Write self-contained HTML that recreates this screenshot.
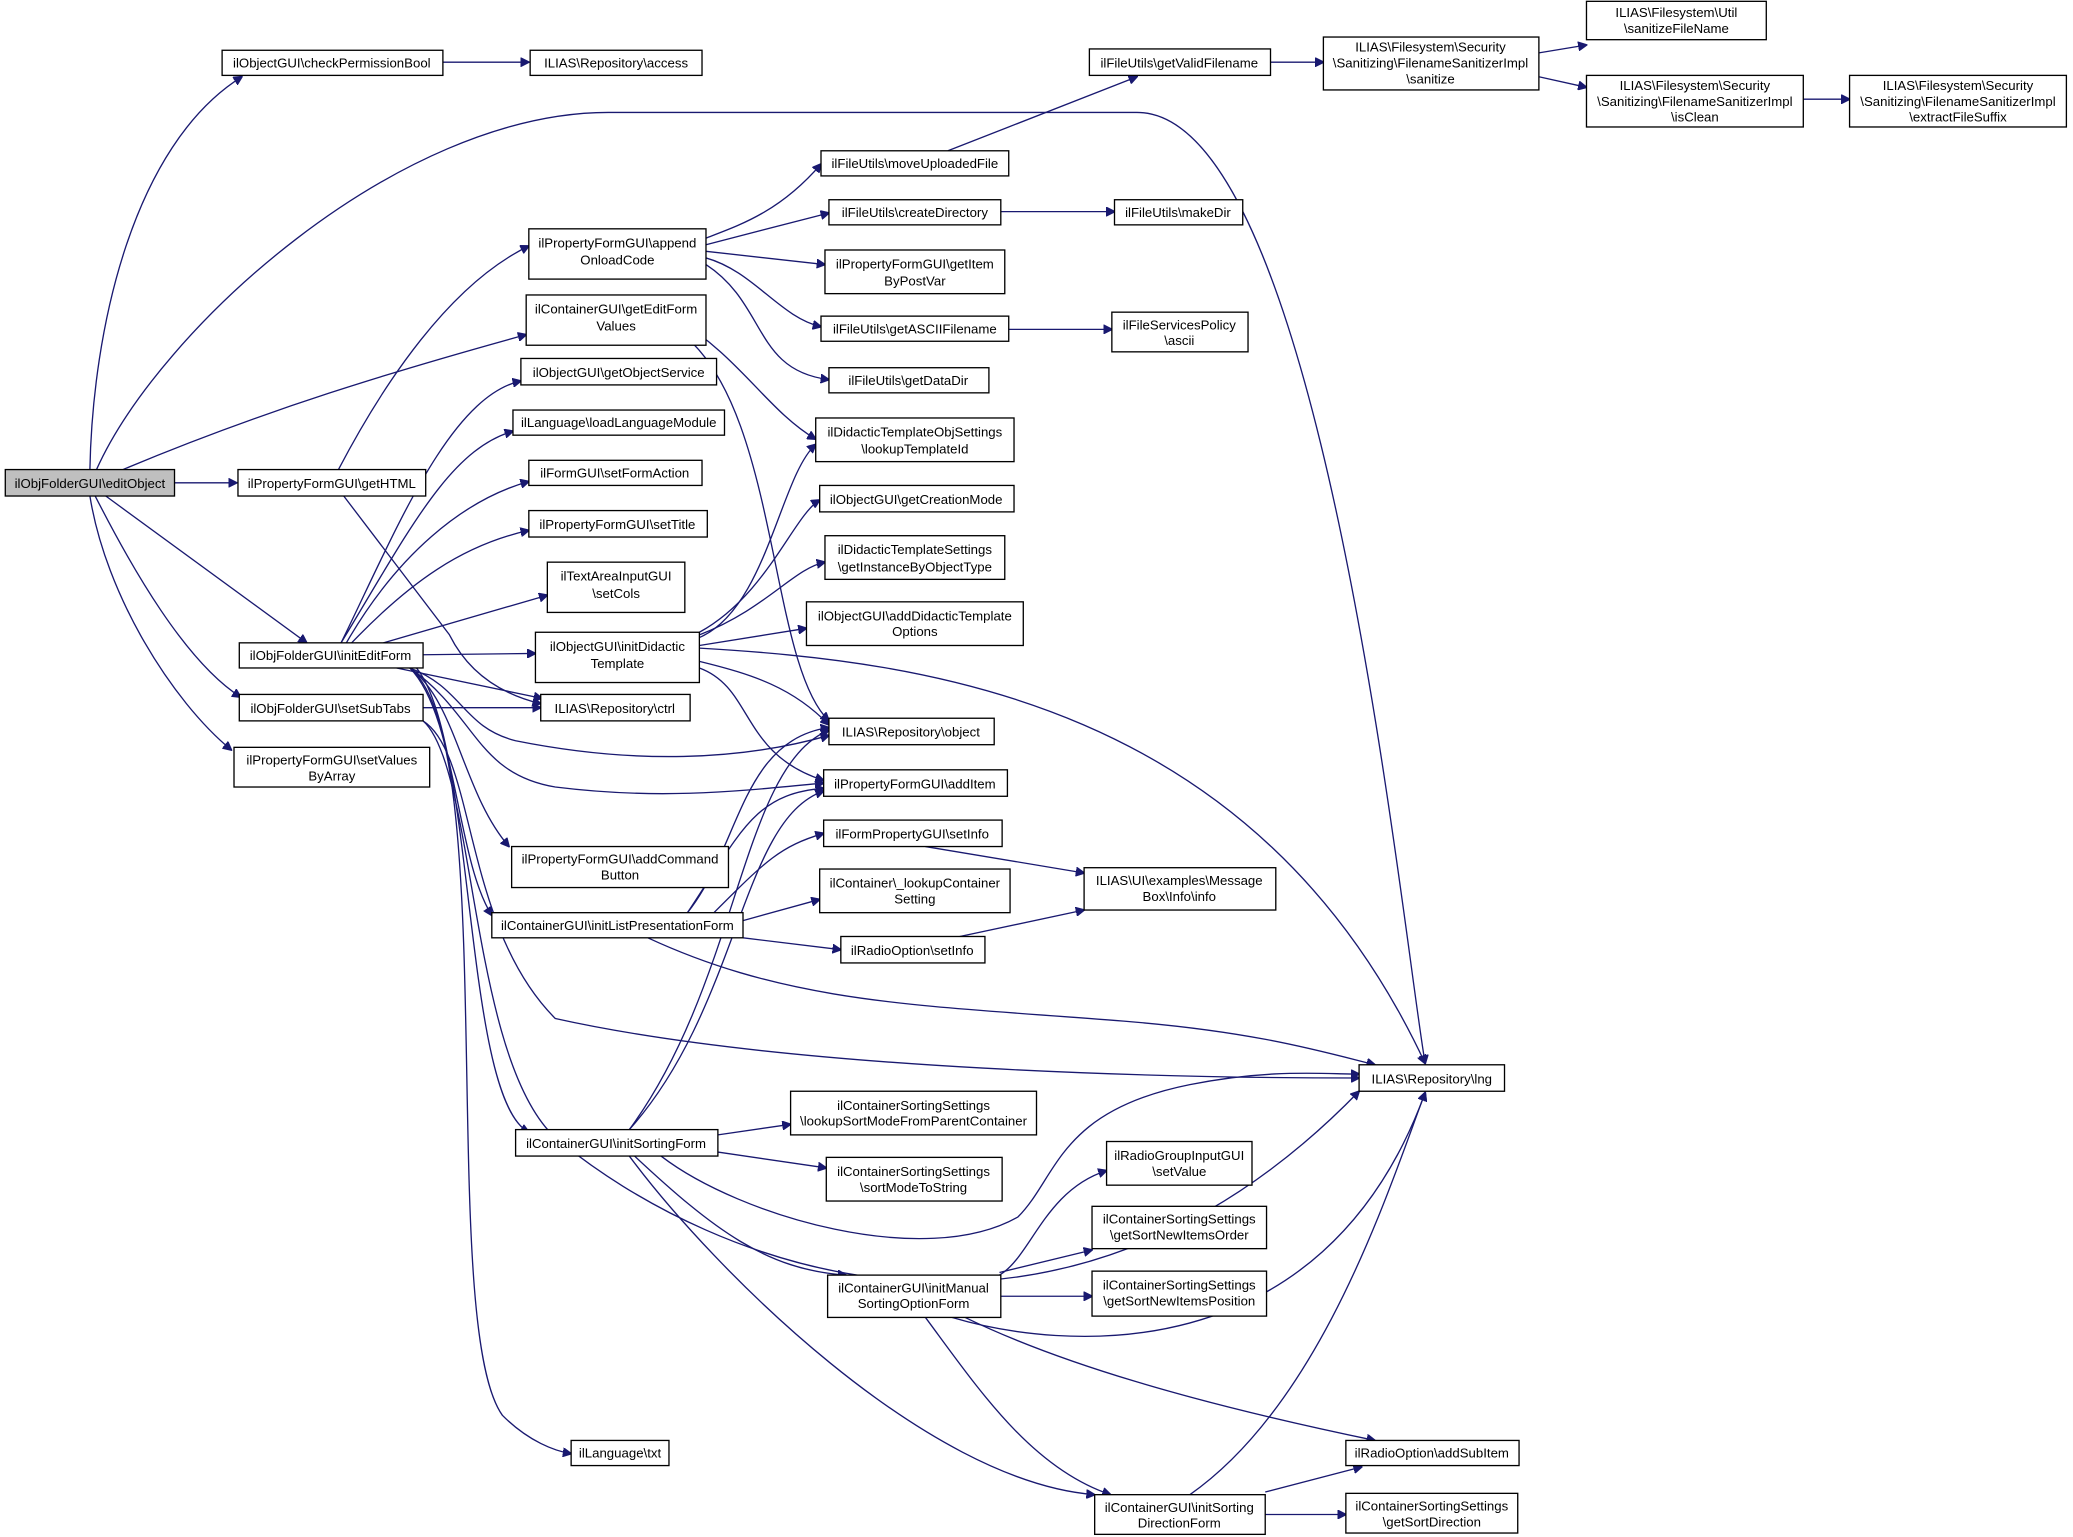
<!DOCTYPE html>
<html><head><meta charset="utf-8"><style>
html,body{margin:0;padding:0;background:#fff;}
svg{display:block;}
text{font-family:"Liberation Sans",Arial,sans-serif;font-size:10px;fill:#000;text-anchor:middle;}
.n{fill:#fff;stroke:#000;stroke-width:1;}
.e{fill:none;stroke:#191970;stroke-width:1;}
</style></head><body>
<svg width="2073" height="1537" viewBox="0 0 1568 1162" preserveAspectRatio="none" xmlns="http://www.w3.org/2000/svg">
<defs><marker id="a" viewBox="0 0 10 10" refX="9" refY="5" markerWidth="7" markerHeight="7" orient="auto" markerUnits="userSpaceOnUse"><path d="M0,0 L10,5 L0,10 z" fill="#191970" stroke="#191970"/></marker></defs>
<g class="e" marker-end="url(#a)">
<path d="M68,355 C70,250 100,110 183,58"/>
<path d="M73,355 C120,250 300,85 460,85 L860,85 C1000,85 1060,700 1078,804"/>
<path d="M93,355 C200,310 300,280 398,253"/>
<path d="M132,365 L179,365"/>
<path d="M80,375 L232,486"/>
<path d="M72,375 C100,430 140,500 182,527"/>
<path d="M68,375 C80,450 130,530 175,567"/>
<path d="M335,47 L400,47"/>
<path d="M256,355 C290,290 340,215 400,186"/>
<path d="M260,375 L340,480 C355,510 380,525 409,532"/>
<path d="M258,486 C300,400 340,300 394,288"/>
<path d="M258,486 C310,400 340,340 388,326"/>
<path d="M262,486 C300,420 350,378 400,364"/>
<path d="M266,486 C310,440 350,412 400,401"/>
<path d="M290,486 L414,450"/>
<path d="M320,495 L405,494"/>
<path d="M300,505 L410,528"/>
<path d="M310,505 C350,520 350,550 390,560 C480,578 560,575 627,556"/>
<path d="M310,505 C360,540 360,585 420,595 C500,605 560,598 623,592"/>
<path d="M310,505 C345,530 350,600 385,640"/>
<path d="M310,505 C345,540 345,650 372,692"/>
<path d="M315,505 C360,560 350,830 400,856"/>
<path d="M310,505 C380,560 330,1000 380,1070 C400,1090 420,1097 432,1099"/>
<path d="M320,535 L409,535"/>
<path d="M320,545 C360,570 350,700 420,770 C600,810 900,815 1028,815"/>
<path d="M320,545 C360,580 355,800 420,860 C540,960 800,1060 1028,825"/>
<path d="M534,180 C560,170 590,160 621,124"/>
<path d="M534,185 L627,161"/>
<path d="M534,190 L624,200"/>
<path d="M534,195 C570,205 590,240 621,247"/>
<path d="M534,200 C580,230 570,280 627,287"/>
<path d="M510,240 C560,270 580,310 617,332"/>
<path d="M510,248 C590,300 580,500 627,545"/>
<path d="M529,482 C580,460 590,360 617,336"/>
<path d="M529,478 C580,450 600,390 620,378"/>
<path d="M529,480 C580,460 600,430 624,425"/>
<path d="M529,488 L610,475"/>
<path d="M529,500 C570,510 600,520 627,548"/>
<path d="M529,505 C570,520 560,570 623,590"/>
<path d="M529,490 C700,500 950,530 1078,804"/>
<path d="M717,114 L860,58"/>
<path d="M961,47 L1001,47"/>
<path d="M1164,40 L1200,34"/>
<path d="M1164,58 L1200,66"/>
<path d="M1364,75 L1399,75"/>
<path d="M757,160 L843,160"/>
<path d="M763,249 L841,249"/>
<path d="M700,640 L820,660"/>
<path d="M726,708 L820,688"/>
<path d="M520,690 C560,640 560,560 627,550"/>
<path d="M520,690 C560,630 570,600 623,596"/>
<path d="M540,690 C580,650 590,640 623,630"/>
<path d="M562,696 L620,680"/>
<path d="M562,709 L636,718"/>
<path d="M490,709 C600,760 700,760 850,772 C950,780 1000,795 1040,805"/>
<path d="M476,854 C560,740 560,580 627,552"/>
<path d="M476,854 C560,760 560,620 623,598"/>
<path d="M543,858 L598,850"/>
<path d="M543,871 L625,883"/>
<path d="M500,874 C560,920 700,960 770,920 C800,890 800,840 900,820 C960,808 1000,812 1028,812"/>
<path d="M480,874 C540,930 580,960 640,964"/>
<path d="M476,874 C540,960 700,1120 828,1130"/>
<path d="M756,964 C780,950 790,900 837,885"/>
<path d="M756,962 L826,945"/>
<path d="M756,980 L826,980"/>
<path d="M720,996 C800,1020 1000,1040 1078,826"/>
<path d="M730,996 C800,1030 900,1060 1040,1089"/>
<path d="M700,996 C740,1050 780,1110 840,1130"/>
<path d="M900,1130 C1000,1060 1050,900 1078,826"/>
<path d="M957,1128 L1030,1109"/>
<path d="M957,1145 L1018,1145"/>
</g>
<g>
<rect x="4" y="355" width="128" height="20" fill="#bfbfbf" stroke="#000"/><text x="68" y="369">ilObjFolderGUI\editObject</text>
<rect class="n" x="168" y="38" width="167" height="19"/><text x="251" y="51">ilObjectGUI\checkPermissionBool</text>
<rect class="n" x="401" y="38" width="130" height="19"/><text x="466" y="51">ILIAS\Repository\access</text>
<rect class="n" x="180" y="355" width="142" height="20"/><text x="251" y="369">ilPropertyFormGUI\getHTML</text>
<rect class="n" x="400" y="173" width="134" height="38"/><text x="467" y="187">ilPropertyFormGUI\append</text><text x="467" y="200">OnloadCode</text>
<rect class="n" x="398" y="223" width="136" height="38"/><text x="466" y="237">ilContainerGUI\getEditForm</text><text x="466" y="250">Values</text>
<rect class="n" x="394" y="271" width="148" height="20"/><text x="468" y="285">ilObjectGUI\getObjectService</text>
<rect class="n" x="388" y="310" width="160" height="19"/><text x="468" y="323">ilLanguage\loadLanguageModule</text>
<rect class="n" x="400" y="348" width="131" height="19"/><text x="465" y="361">ilFormGUI\setFormAction</text>
<rect class="n" x="400" y="386" width="135" height="20"/><text x="467" y="400">ilPropertyFormGUI\setTitle</text>
<rect class="n" x="414" y="425" width="104" height="38"/><text x="466" y="439">ilTextAreaInputGUI</text><text x="466" y="452">\setCols</text>
<rect class="n" x="405" y="478" width="124" height="38"/><text x="467" y="492">ilObjectGUI\initDidactic</text><text x="467" y="505">Template</text>
<rect class="n" x="409" y="525" width="113" height="20"/><text x="465" y="539">ILIAS\Repository\ctrl</text>
<rect class="n" x="181" y="486" width="139" height="19"/><text x="250" y="499">ilObjFolderGUI\initEditForm</text>
<rect class="n" x="181" y="525" width="139" height="20"/><text x="250" y="539">ilObjFolderGUI\setSubTabs</text>
<rect class="n" x="177" y="565" width="148" height="30"/><text x="251" y="578">ilPropertyFormGUI\setValues</text><text x="251" y="590">ByArray</text>
<rect class="n" x="387" y="640" width="164" height="31"/><text x="469" y="653">ilPropertyFormGUI\addCommand</text><text x="469" y="665">Button</text>
<rect class="n" x="372" y="690" width="190" height="19"/><text x="467" y="703">ilContainerGUI\initListPresentationForm</text>
<rect class="n" x="390" y="854" width="153" height="20"/><text x="466" y="868">ilContainerGUI\initSortingForm</text>
<rect class="n" x="432" y="1089" width="74" height="19"/><text x="469" y="1102">ilLanguage\txt</text>
<rect class="n" x="621" y="114" width="142" height="19"/><text x="692" y="127">ilFileUtils\moveUploadedFile</text>
<rect class="n" x="627" y="151" width="130" height="19"/><text x="692" y="164">ilFileUtils\createDirectory</text>
<rect class="n" x="624" y="189" width="136" height="33"/><text x="692" y="203">ilPropertyFormGUI\getItem</text><text x="692" y="216">ByPostVar</text>
<rect class="n" x="621" y="239" width="142" height="19"/><text x="692" y="252">ilFileUtils\getASCIIFilename</text>
<rect class="n" x="627" y="278" width="121" height="19"/><text x="687" y="291">ilFileUtils\getDataDir</text>
<rect class="n" x="617" y="316" width="150" height="33"/><text x="692" y="330">ilDidacticTemplateObjSettings</text><text x="692" y="343">\lookupTemplateId</text>
<rect class="n" x="620" y="367" width="147" height="20"/><text x="693" y="381">ilObjectGUI\getCreationMode</text>
<rect class="n" x="624" y="405" width="136" height="33"/><text x="692" y="419">ilDidacticTemplateSettings</text><text x="692" y="432">\getInstanceByObjectType</text>
<rect class="n" x="610" y="455" width="164" height="33"/><text x="692" y="469">ilObjectGUI\addDidacticTemplate</text><text x="692" y="481">Options</text>
<rect class="n" x="627" y="543" width="125" height="20"/><text x="689" y="557">ILIAS\Repository\object</text>
<rect class="n" x="623" y="582" width="139" height="20"/><text x="692" y="596">ilPropertyFormGUI\addItem</text>
<rect class="n" x="623" y="620" width="135" height="20"/><text x="690" y="634">ilFormPropertyGUI\setInfo</text>
<rect class="n" x="620" y="657" width="144" height="33"/><text x="692" y="671">ilContainer\_lookupContainer</text><text x="692" y="683">Setting</text>
<rect class="n" x="636" y="708" width="109" height="20"/><text x="690" y="722">ilRadioOption\setInfo</text>
<rect class="n" x="598" y="825" width="186" height="33"/><text x="691" y="839">ilContainerSortingSettings</text><text x="691" y="851">\lookupSortModeFromParentContainer</text>
<rect class="n" x="625" y="875" width="133" height="33"/><text x="691" y="889">ilContainerSortingSettings</text><text x="691" y="901">\sortModeToString</text>
<rect class="n" x="626" y="964" width="131" height="32"/><text x="691" y="977">ilContainerGUI\initManual</text><text x="691" y="989">SortingOptionForm</text>
<rect class="n" x="828" y="1130" width="129" height="30"/><text x="892" y="1143">ilContainerGUI\initSorting</text><text x="892" y="1155">DirectionForm</text>
<rect class="n" x="824" y="37" width="137" height="20"/><text x="892" y="51">ilFileUtils\getValidFilename</text>
<rect class="n" x="843" y="151" width="97" height="19"/><text x="891" y="164">ilFileUtils\makeDir</text>
<rect class="n" x="841" y="236" width="103" height="30"/><text x="892" y="249">ilFileServicesPolicy</text><text x="892" y="261">\ascii</text>
<rect class="n" x="820" y="656" width="145" height="32"/><text x="892" y="669">ILIAS\UI\examples\Message</text><text x="892" y="681">Box\Info\info</text>
<rect class="n" x="1028" y="805" width="110" height="20"/><text x="1083" y="819">ILIAS\Repository\lng</text>
<rect class="n" x="837" y="863" width="110" height="33"/><text x="892" y="877">ilRadioGroupInputGUI</text><text x="892" y="889">\setValue</text>
<rect class="n" x="826" y="912" width="132" height="32"/><text x="892" y="925">ilContainerSortingSettings</text><text x="892" y="937">\getSortNewItemsOrder</text>
<rect class="n" x="826" y="961" width="132" height="34"/><text x="892" y="975">ilContainerSortingSettings</text><text x="892" y="987">\getSortNewItemsPosition</text>
<rect class="n" x="1018" y="1089" width="131" height="19"/><text x="1083" y="1102">ilRadioOption\addSubItem</text>
<rect class="n" x="1018" y="1129" width="130" height="30"/><text x="1083" y="1142">ilContainerSortingSettings</text><text x="1083" y="1154">\getSortDirection</text>
<rect class="n" x="1001" y="28" width="163" height="40"/><text x="1082" y="39">ILIAS\Filesystem\Security</text><text x="1082" y="51">\Sanitizing\FilenameSanitizerImpl</text><text x="1082" y="63">\sanitize</text>
<rect class="n" x="1200" y="1" width="136" height="29"/><text x="1268" y="13">ILIAS\Filesystem\Util</text><text x="1268" y="25">\sanitizeFileName</text>
<rect class="n" x="1200" y="57" width="164" height="39"/><text x="1282" y="68">ILIAS\Filesystem\Security</text><text x="1282" y="80">\Sanitizing\FilenameSanitizerImpl</text><text x="1282" y="92">\isClean</text>
<rect class="n" x="1399" y="57" width="164" height="39"/><text x="1481" y="68">ILIAS\Filesystem\Security</text><text x="1481" y="80">\Sanitizing\FilenameSanitizerImpl</text><text x="1481" y="92">\extractFileSuffix</text>
</g>
</svg>
</body></html>
